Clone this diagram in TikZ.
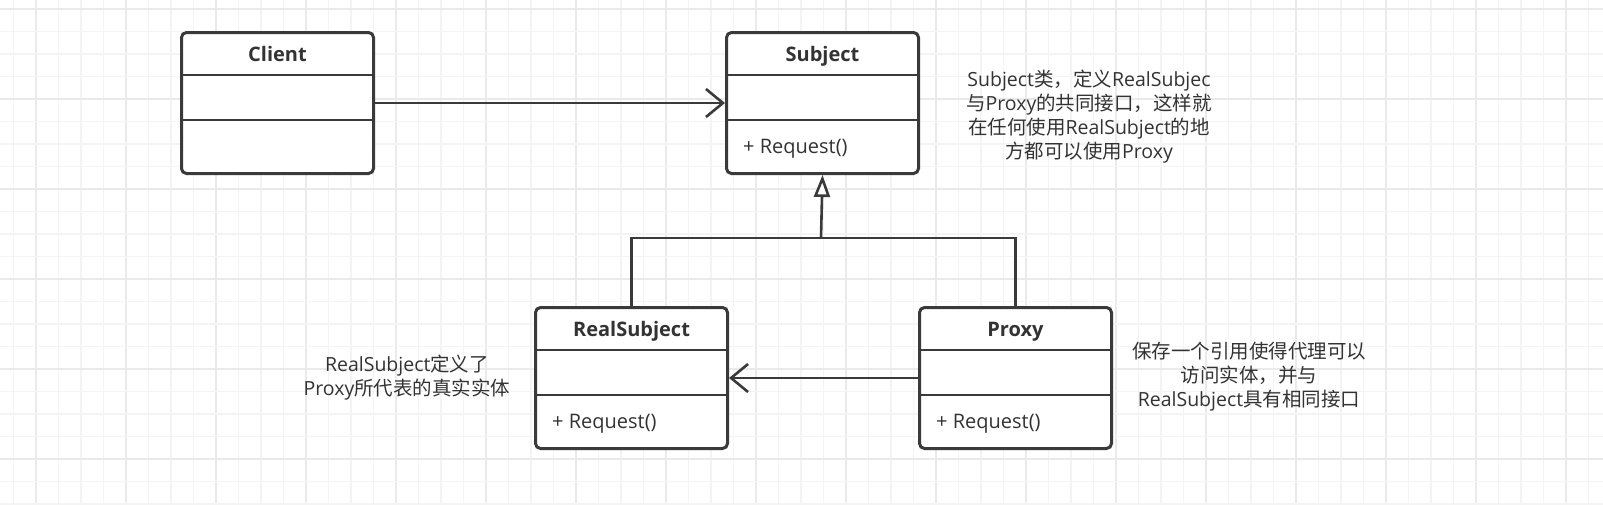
\documentclass[tikz,border=0pt]{standalone}
\usepackage{fontspec}
\setmainfont{Open Sans}
\newfontfamily\cjk{Noto Sans CJK SC}
\usetikzlibrary{arrows.meta}
\definecolor{ink}{HTML}{3A3A3A}
\definecolor{txt}{HTML}{333333}
\definecolor{gridminor}{HTML}{F4F4F4}
\definecolor{gridmajor}{HTML}{EAEAEA}
\begin{document}
\begin{tikzpicture}[x=1pt,y=-1pt,
  cls/.style={draw=ink,line width=3pt,fill=white,rounded corners=5pt,
    minimum width=192pt,minimum height=141pt,anchor=north west,inner sep=0pt},
  divline/.style={draw=ink,line width=2.6pt},
  conn/.style={draw=ink,line width=2.6pt},
  hdr/.style={font=\fontsize{20}{24}\selectfont\bfseries,text=txt,inner sep=0pt,anchor=base},
  op/.style={font=\fontsize{20}{24}\selectfont,text=txt,inner sep=0pt,anchor=base west},
  note/.style={font=\fontsize{19.5}{24}\selectfont,text=txt,align=center,inner sep=0pt},
  openarrow/.style={-{Straight Barb[length=17pt,width=28pt,line width=2.6pt]}},
  inherit/.style={-{Triangle[length=22pt,width=16pt,fill=white,line width=2.6pt]}}
]
\useasboundingbox (0,0) rectangle (1603,504);
\fill[white] (0,0) rectangle (1603,504);
% grid
\foreach \i in {0,...,71} {
  \pgfmathsetmacro{\gx}{13.5+22.5*\i}
  \pgfmathtruncatemacro{\m}{mod(\i,4)}
  \ifnum\m=1 \draw[gridmajor,line width=1.1pt] (\gx,0) -- (\gx,504);
  \else \draw[gridminor,line width=1.1pt] (\gx,0) -- (\gx,504); \fi
}
\foreach \i in {0,...,22} {
  \pgfmathsetmacro{\gy}{9+22.5*\i}
  \pgfmathtruncatemacro{\m}{mod(\i,4)}
  \ifnum\m=0 \draw[gridmajor,line width=1.1pt] (0,\gy) -- (1603,\gy);
  \else \draw[gridminor,line width=1.1pt] (0,\gy) -- (1603,\gy); \fi
}
% classes
\node[cls] (client) at (180,31) {};
\node[cls] (subject) at (725,31) {};
\node[cls] (realsubject) at (534,306) {};
\node[cls] (proxy) at (918,306) {};
\foreach \c in {client,subject,realsubject,proxy} {
  \draw[divline] ([yshift=-44pt]\c.north west) -- ([yshift=-44pt]\c.north east);
  \draw[divline] ([yshift=-89pt]\c.north west) -- ([yshift=-89pt]\c.north east);
}
\node[hdr] (clientT) at ([yshift=-30pt]client.north) {Client};
\node[hdr] (subjectT) at ([yshift=-30pt]subject.north) {Subject};
\node[hdr] (realsubjectT) at ([yshift=-30pt]realsubject.north) {RealSubject};
\node[hdr] (proxyT) at ([yshift=-30pt]proxy.north) {Proxy};
\node[op] (subjectOp) at ([xshift=18pt,yshift=-122pt]subject.north west) {+ Request()};
\node[op] (realsubjectOp) at ([xshift=18pt,yshift=-122pt]realsubject.north west) {+ Request()};
\node[op] (proxyOp) at ([xshift=18pt,yshift=-122pt]proxy.north west) {+ Request()};
% connectors
\draw[conn,openarrow] (client.east) -- (subject.west);
\draw[conn,openarrow] (proxy.west) -- (realsubject.east);
\coordinate (bar) at (821,238);
\draw[conn] (realsubject.north) |- (bar) -| (proxy.north);
\draw[conn,inherit] (bar) -- (subject.south);
% notes
\node[note] (note1) at (1089,117) {Subject{\cjk 类，定义}RealSubjec\\{\cjk 与}Proxy{\cjk 的共同接口，这样就}\\{\cjk 在任何使用}RealSubject{\cjk 的地}\\{\cjk 方都可以使用}Proxy};
\node[note] (note2) at (407,378) {RealSubject{\cjk 定义了}\\Proxy{\cjk 所代表的真实实体}};
\node[note] (note3) at (1249,377) {{\cjk 保存一个引用使得代理可以}\\{\cjk 访问实体，并与}\\RealSubject{\cjk 具有相同接口}};
\end{tikzpicture}
\end{document}
